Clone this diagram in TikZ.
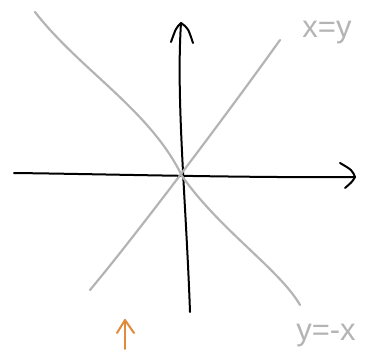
\documentclass[tikz,border=0pt]{standalone}
\usepackage{fontspec}
\setsansfont{Liberation Sans}
\usepackage{xcolor}
\usetikzlibrary{positioning}
\definecolor{sketchgray}{HTML}{B4B4B4}
\definecolor{sketchorange}{HTML}{E08A3C}

\begin{document}
\begin{tikzpicture}[x=1pt,y=-1pt,
axis/.style={draw=black,line width=2pt,line cap=round,line join=round},
guide/.style={draw=sketchgray,line width=2.2pt,line cap=round},
lbl/.style={text=sketchgray,font=\sffamily\fontsize{31}{34}\selectfont,inner sep=0pt}]
\useasboundingbox (0,0) rectangle (377,356);
% axes
\coordinate (o) at (182,176);
\coordinate (xl) at (14,173);
\coordinate (xr) at (355,177);
\coordinate (yb) at (190,312);
\coordinate (yt) at (181,23);
\draw[axis] (xl) .. controls (100,174) and (250,178) .. (xr);
\draw[axis] (340,163) .. controls (352,170) .. (xr) .. controls (352,182) .. (345,188);
\draw[axis] (yb) .. controls (186,200) and (176,100) .. (yt);
\draw[axis] (171,42) .. controls (176,28) .. (yt) .. controls (188,28) .. (193,43);
% guide lines
\draw[guide] (90,290) .. controls (140,230) and (230,110) .. (280,40);
\draw[guide] (35,12) .. controls (80,70) and (150,110) .. (o) .. controls (220,230) and (280,270) .. (300,305);
\node[lbl] (xy) at (327,33) {x=y};
\node[lbl] (ynx) at (326,336) {y=-x};
% orange arrow
\coordinate (ab) at (125,349);
\coordinate (at) at (125,320);
\draw[draw=sketchorange,line width=2pt,line cap=round] (ab) -- (at);
\draw[draw=sketchorange,line width=2pt,line cap=round,line join=round] (117,333) -- (at) -- (134,333);
\end{tikzpicture}
\end{document}
